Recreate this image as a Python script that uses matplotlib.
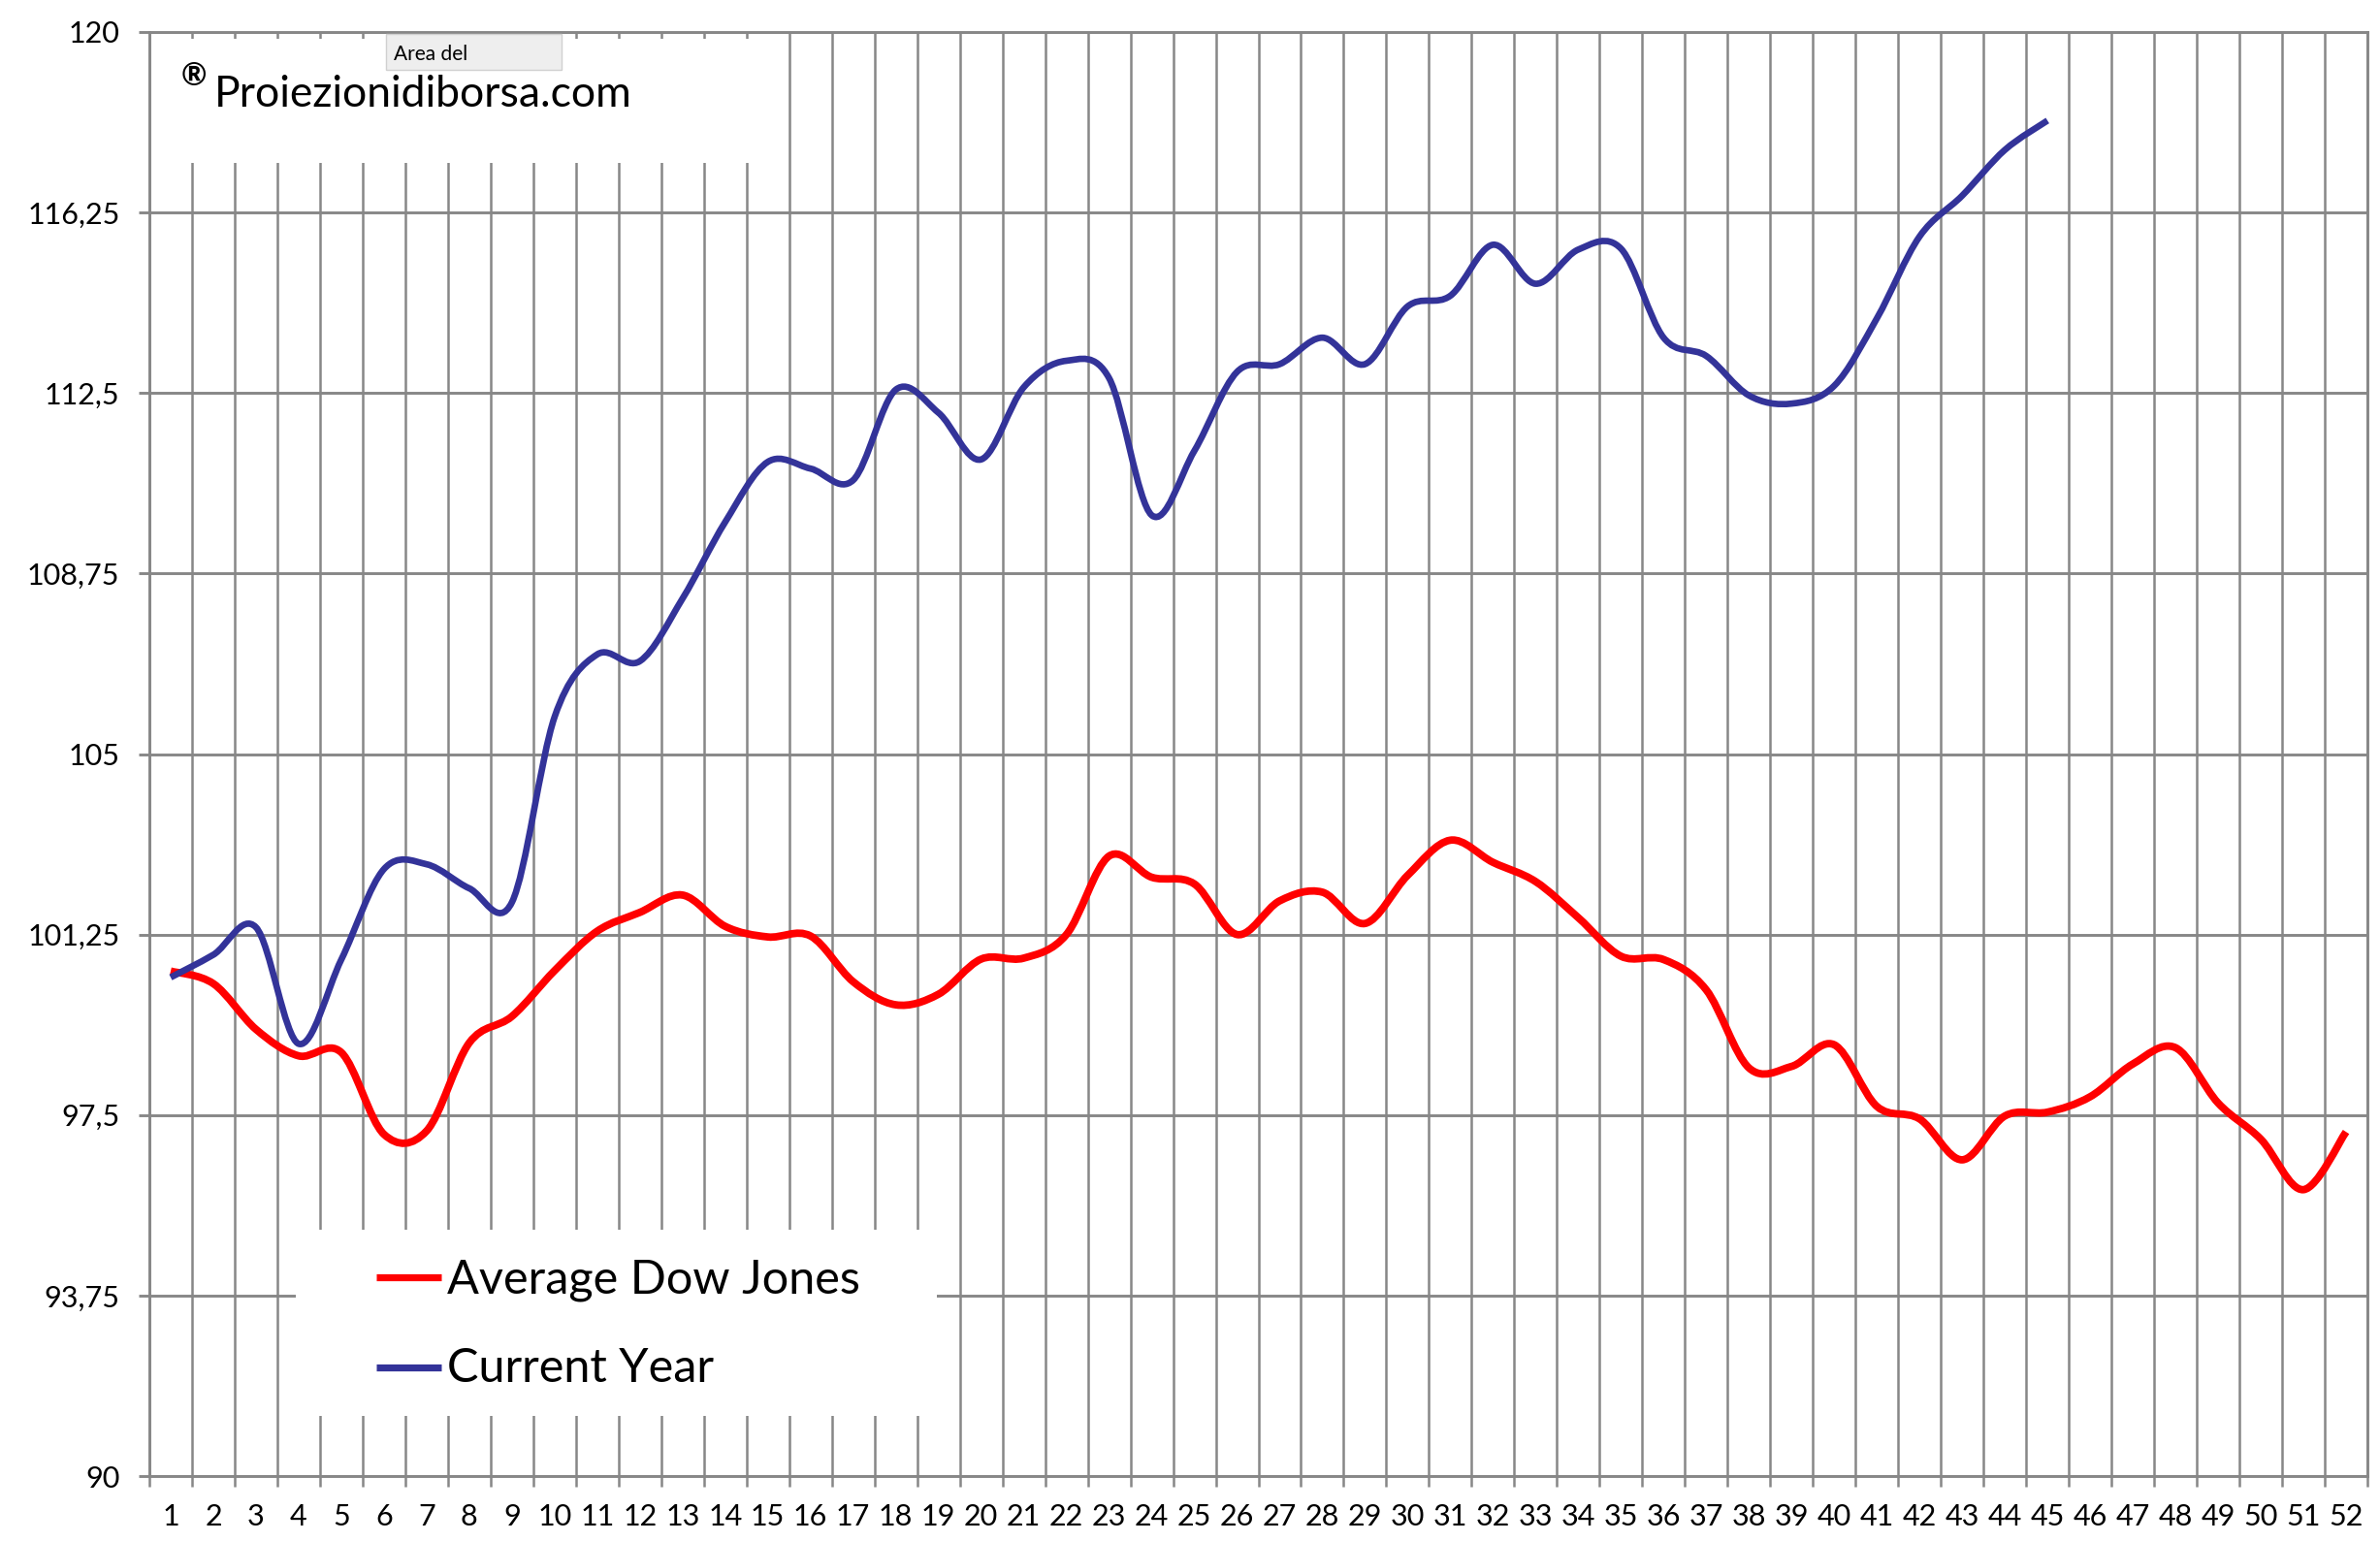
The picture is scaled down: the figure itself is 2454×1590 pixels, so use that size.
import numpy as np
import matplotlib
matplotlib.use("Agg")
import matplotlib.pyplot as plt
from matplotlib.path import Path
from matplotlib.patches import PathPatch, Rectangle, FancyBboxPatch
from matplotlib.lines import Line2D

plt.rcParams['font.family'] = ['Lato', 'DejaVu Sans']

# Dati (settimane dell'anno)
settimane = list(range(1, 53))

media_dow = [100.49, 100.23, 99.28, 98.73, 98.80, 97.10, 97.17, 99.00, 99.55, 100.50,
             101.32, 101.71, 102.07, 101.42, 101.20, 101.22, 100.27, 99.79, 100.01, 100.74,
             100.76, 101.25, 102.88, 102.44, 102.30, 101.25, 101.95, 102.13, 101.48, 102.48,
             103.21, 102.75, 102.35, 101.60, 100.80, 100.73, 100.10, 98.48, 98.51, 98.96,
             97.68, 97.42, 96.57, 97.48, 97.56, 97.88, 98.56, 98.90, 97.75, 97.00,
             95.95, 97.15]

anno_corrente = [100.36, 100.83, 101.40, 98.98, 100.73, 102.61, 102.71, 102.21, 101.92, 105.77,
                 107.07, 106.93, 108.23, 109.82, 111.07, 110.93, 110.69, 112.57, 112.09, 111.12,
                 112.62, 113.17, 112.81, 109.96, 111.30, 112.94, 113.10, 113.65, 113.10, 114.30,
                 114.52, 115.58, 114.77, 115.48, 115.50, 113.65, 113.27, 112.45, 112.28, 112.65,
                 114.05, 115.75, 116.60, 117.55, 118.16]

etichette = ["Average Dow Jones", "Current Year"]
y_ticks = [90, 93.75, 97.5, 101.25, 105, 108.75, 112.5, 116.25, 120]

ROSSO = "#FF0000"
BLU = "#333399"
GRIGIO = "#878787"

W, H = 2454, 1590


# curva "smussata" tipo Excel (Catmull-Rom -> Bezier)
def curva_smussata(xs, ys):
    n = len(xs)
    verts = [(xs[0], ys[0])]
    codes = [Path.MOVETO]
    for i in range(n - 1):
        a = i - 1 if i > 0 else i
        d = i + 2 if i + 2 < n else i + 1
        c1 = (xs[i] + (xs[i + 1] - xs[a]) / 6, ys[i] + (ys[i + 1] - ys[a]) / 6)
        c2 = (xs[i + 1] - (xs[d] - xs[i]) / 6, ys[i + 1] - (ys[d] - ys[i]) / 6)
        verts += [c1, c2, (xs[i + 1], ys[i + 1])]
        codes += [Path.CURVE4] * 3
    return Path(verts, codes)


def fx(px):
    return px / W


def fy(py):
    return 1 - py / H


fig = plt.figure(figsize=(W / 100, H / 100), dpi=100)
ax = fig.add_axes([fx(154), fy(1522), fx(2441 - 154), (1522 - 33) / H])

ax.set_xlim(0.5, 52.5)
ax.set_ylim(90, 120)
ax.set_axisbelow(True)

ax.set_yticks(y_ticks)
ax.set_yticklabels([f"{v:g}".replace(".", ",") for v in y_ticks])
ax.set_xticks(settimane)
ax.set_xticklabels([str(s) for s in settimane])
ax.set_xticks(np.arange(0.5, 53, 1), minor=True)

ax.tick_params(axis='x', which='major', length=0, pad=20, labelsize=22)
ax.tick_params(axis='x', which='minor', length=8, width=1.8, color=GRIGIO, direction='out')
ax.tick_params(axis='y', which='major', length=8, width=2.1, color=GRIGIO, pad=14, labelsize=22)

ax.grid(axis='y', which='major', color=GRIGIO, lw=2.1)
ax.grid(axis='x', which='minor', color=GRIGIO, lw=1.8)
for s in ax.spines.values():
    s.set_color(GRIGIO)
    s.set_linewidth(2.1)

# riquadri bianchi (titolo e legenda)
ax.add_patch(Rectangle((fx(159), fy(168)), fx(790 - 159), (168 - 40) / H,
                       transform=fig.transFigure, facecolor="white", edgecolor="none", zorder=1))
ax.add_patch(Rectangle((fx(305), fy(1460)), fx(966 - 305), (1460 - 1268) / H,
                       transform=fig.transFigure, facecolor="white", edgecolor="none", zorder=1))

# serie
ax.add_patch(PathPatch(curva_smussata(settimane, media_dow), fill=False,
                       edgecolor=ROSSO, lw=5.6, capstyle='butt', joinstyle='round', zorder=3))
ax.add_patch(PathPatch(curva_smussata(settimane[:len(anno_corrente)], anno_corrente), fill=False,
                       edgecolor=BLU, lw=4.8, capstyle='butt', joinstyle='round', zorder=4))

# legenda manuale
fig.add_artist(Line2D([fx(388), fx(455)], [fy(1317), fy(1317)], color=ROSSO, lw=5.2,
                      solid_capstyle='butt', transform=fig.transFigure))
fig.add_artist(Line2D([fx(388), fx(455)], [fy(1410), fy(1410)], color=BLU, lw=5.2,
                      solid_capstyle='butt', transform=fig.transFigure))
fig.text(fx(461), fy(1333), etichette[0], fontsize=35, va='baseline', ha='left')
fig.text(fx(461), fy(1425), etichette[1], fontsize=35, va='baseline', ha='left')

# marchio
fig.text(fx(187), fy(88), "®", fontsize=23, fontweight='bold', va='baseline', ha='left')
fig.text(fx(221), fy(110), "Proiezionidiborsa.com", fontsize=32, va='baseline', ha='left')

# tooltip "Area del"
fig.add_artist(FancyBboxPatch((fx(398), fy(72)), fx(579 - 398), (72 - 35) / H,
                              boxstyle="square,pad=0", transform=fig.transFigure,
                              facecolor="#EEEEEE", edgecolor="#D0D0D0", lw=1, zorder=5))
fig.text(fx(406), fy(62), "Area del", fontsize=15, va='baseline', ha='left', zorder=6)

fig.savefig("out.png", dpi=100, facecolor="white")
